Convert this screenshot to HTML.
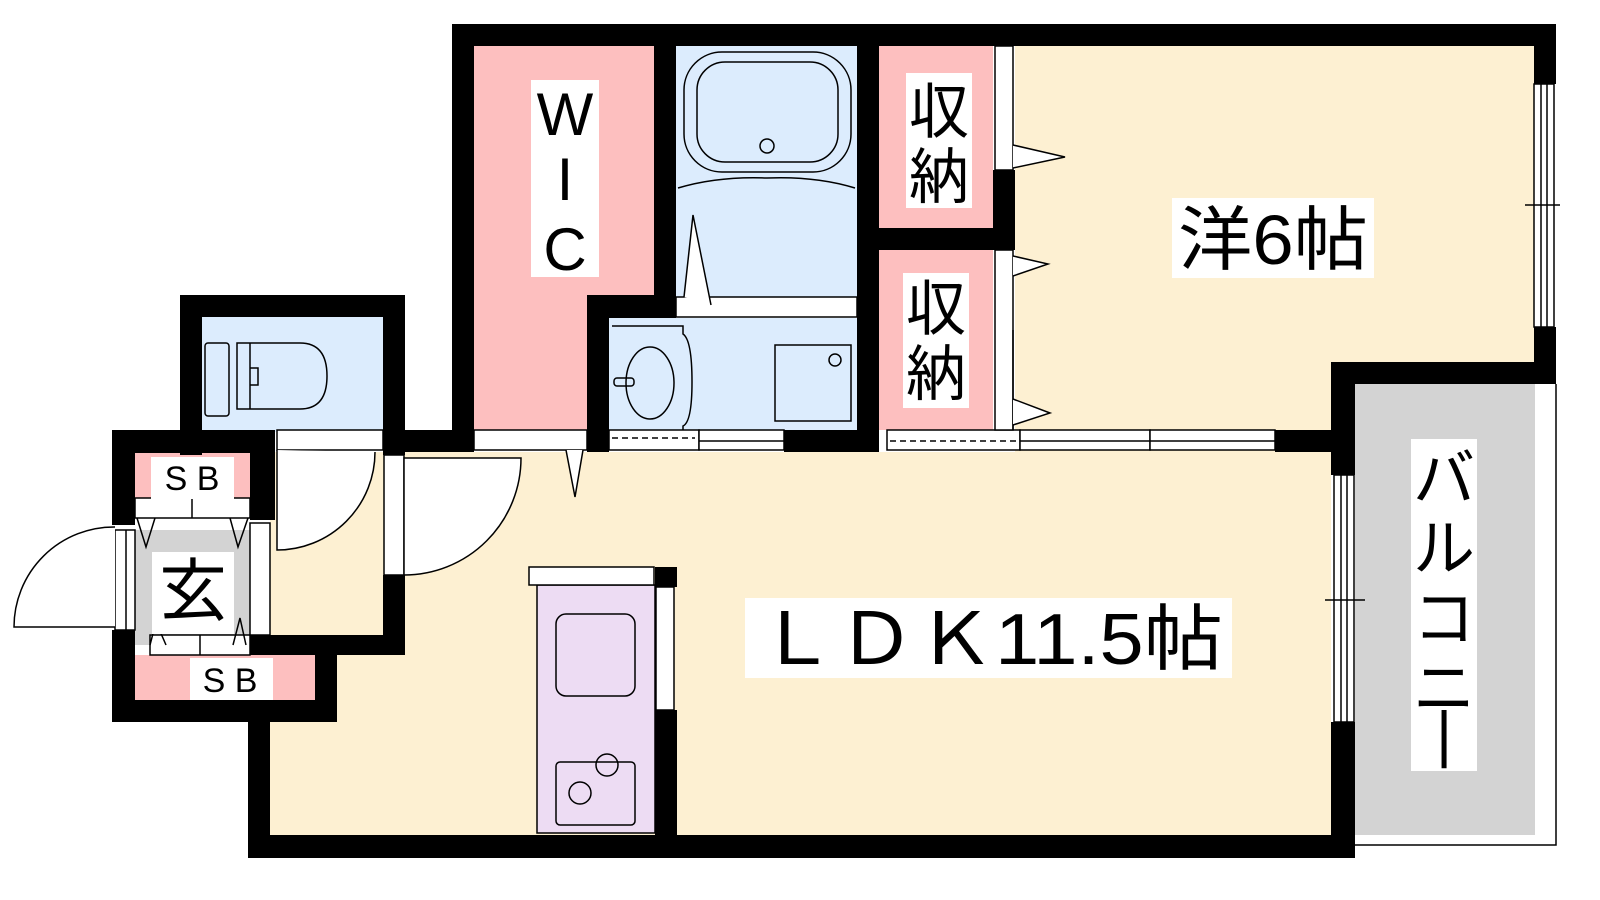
<!DOCTYPE html>
<html><head><meta charset="utf-8"><style>
html,body{margin:0;padding:0;background:#fff;width:1600px;height:900px;overflow:hidden}
svg{display:block}
text{font-family:"Liberation Sans","Noto Sans CJK JP",sans-serif;fill:#000}
</style></head><body>
<svg width="1600" height="900" viewBox="0 0 1600 900" xmlns="http://www.w3.org/2000/svg">
<rect x="270" y="452" width="1061" height="383" fill="#fdf0d2"/>
<rect x="1015" y="46" width="519" height="406" fill="#fdf0d2"/>
<rect x="270" y="452" width="113" height="183" fill="#fdf0d2"/>
<rect x="474" y="46" width="180" height="384" fill="#fdbfbf"/>
<rect x="676" y="46" width="181" height="251" fill="#dcecfd"/>
<rect x="609" y="318" width="248" height="112" fill="#dcecfd"/>
<rect x="879" y="46" width="114" height="182" fill="#fdbfbf"/>
<rect x="879" y="250" width="114" height="180" fill="#fdbfbf"/>
<rect x="202" y="317" width="181" height="115" fill="#dcecfd"/>
<rect x="1355" y="384" width="180" height="451" fill="#d3d3d3"/>
<path d="M1355 845 L1556 845 L1556 384" fill="none" stroke="#000" stroke-width="1.5"/>
<rect x="135" y="530" width="115" height="115" fill="#d3d3d3"/>
<rect x="135" y="453" width="115" height="45" fill="#fdbfbf"/>
<rect x="135" y="655" width="180" height="45" fill="#fdbfbf"/>
<rect x="537" y="585" width="118" height="248" fill="#eddcf3" stroke="#000" stroke-width="1.5"/>

<g fill="#000">
<rect x="452" y="24" width="1104" height="22"/>
<rect x="1534" y="24" width="22" height="60"/>
<rect x="1534" y="327" width="22" height="57"/>
<rect x="1331" y="362" width="225" height="22"/>
<rect x="1331" y="362" width="24" height="113"/>
<rect x="1331" y="722" width="24" height="136"/>
<rect x="248" y="835" width="1107" height="23"/>
<rect x="248" y="700" width="22" height="158"/>
<rect x="452" y="24" width="22" height="428"/>
<rect x="654" y="24" width="22" height="273"/>
<rect x="587" y="295" width="89" height="23"/>
<rect x="587" y="295" width="22" height="157"/>
<rect x="857" y="24" width="22" height="428"/>
<rect x="879" y="228" width="136" height="22"/>
<rect x="993" y="170" width="22" height="80"/>
<rect x="784" y="430" width="95" height="22"/>
<rect x="1275" y="430" width="80" height="22"/>
<rect x="180" y="295" width="225" height="22"/>
<rect x="180" y="295" width="22" height="160"/>
<rect x="383" y="295" width="22" height="160"/>
<rect x="383" y="430" width="91" height="22"/>
<rect x="112" y="430" width="163" height="23"/>
<rect x="250" y="430" width="25" height="90"/>
<rect x="112" y="430" width="23" height="95"/>
<rect x="112" y="630" width="23" height="92"/>
<rect x="112" y="700" width="225" height="22"/>
<rect x="315" y="635" width="22" height="87"/>
<rect x="248" y="635" width="157" height="20"/>
<rect x="383" y="575" width="22" height="80"/>
<rect x="655" y="567" width="22" height="20"/>
<rect x="655" y="710" width="22" height="125"/>
</g>

<g fill="#fff" stroke="#000" stroke-width="1.5">
<rect x="1534" y="84" width="20" height="243"/>
<rect x="1334" y="475" width="20" height="247"/>
<rect x="474" y="430" width="113" height="20"/>
<rect x="277" y="430" width="106" height="20"/>
<rect x="384" y="455" width="20" height="120"/>
<rect x="609" y="430" width="90" height="20"/>
<rect x="699" y="430" width="85" height="20"/>
<rect x="887" y="430" width="133" height="20"/>
<rect x="1020" y="430" width="130" height="20"/>
<rect x="1150" y="430" width="125" height="20"/>
<rect x="676" y="297" width="181" height="20"/>
<rect x="995" y="46" width="18" height="124"/>
<rect x="995" y="250" width="18" height="180"/>
<rect x="529" y="567" width="125" height="18"/>
<rect x="656" y="587" width="18" height="123"/>
<rect x="135" y="498" width="115" height="20"/>
<rect x="150" y="635" width="100" height="20"/>
<rect x="250" y="523" width="20" height="112"/>
<rect x="115" y="530" width="20" height="100"/>
</g>
<g stroke="#000" stroke-width="1.5" fill="none">
<line x1="1541" y1="84" x2="1541" y2="327"/><line x1="1547" y1="84" x2="1547" y2="327"/>
<line x1="1525" y1="205" x2="1560" y2="205"/>
<line x1="1341" y1="475" x2="1341" y2="722"/><line x1="1347" y1="475" x2="1347" y2="722"/>
<line x1="1325" y1="600" x2="1365" y2="600"/>
<line x1="1020" y1="441" x2="1275" y2="441"/>
<line x1="699" y1="441" x2="784" y2="441"/>
<line x1="192" y1="498" x2="192" y2="518"/>
<line x1="200" y1="635" x2="200" y2="655"/>
<line x1="126" y1="530" x2="126" y2="630"/>
<line x1="1013" y1="330" x2="1013" y2="430"/>
<line x1="612" y1="438" x2="695" y2="438" stroke-dasharray="6,4"/>
<line x1="890" y1="441" x2="1017" y2="441" stroke-dasharray="6,4"/>
<path d="M277 450 L277 550 A98 98 0 0 0 375 452" fill="#fff"/>
<path d="M404 458 L404 575 A117 117 0 0 0 521 458 Z" fill="#fff"/>
<path d="M115 527 A100 100 0 0 0 14 627 L115 627" fill="#fff"/>
<path d="M566 450 L575 497 L583 450" fill="#fff"/>
<path d="M684 297 L693 215 L711 305" fill="#fff"/>
<path d="M1013 145 L1065 157 L1013 168" fill="#fff"/>
<path d="M1013 256 L1048 264 L1013 276" fill="#fff"/>
<path d="M1013 399 L1050 413 L1013 425" fill="#fff"/>
<path d="M137 518 L146 547 L155 518"/>
<path d="M230 518 L238 547 L248 518"/>
<path d="M150 645 L156 622 L166 645"/>
<path d="M233 645 L240 618 L246 645"/>
<rect x="684" y="52" width="167" height="120" rx="38"/>
<rect x="697" y="62" width="141" height="100" rx="28"/>
<circle cx="767" cy="146" r="7"/>
<path d="M678 188 Q718 176 767 178 Q816 176 855 188"/>
<path d="M612 326 L683 326 L683 334 Q692 340 692 382 Q692 422 683 426 L683 430"/>
<ellipse cx="650" cy="383" rx="24" ry="36"/>
<rect x="614" y="378" width="20" height="8" rx="3"/>
<rect x="775" y="345" width="76" height="76"/>
<circle cx="835" cy="360" r="6"/>
<rect x="205" y="343" width="24" height="73" rx="3"/>
<path d="M237 343 L300 343 Q327 343 327 376 Q327 409 300 409 L237 409 Z"/>
<line x1="250" y1="343" x2="250" y2="409"/>
<path d="M250 368 L258 368 L258 385 L250 385"/>
<rect x="556" y="614" width="79" height="82" rx="10"/>
<rect x="556" y="762" width="79" height="63" rx="4"/>
<circle cx="607" cy="765" r="11"/><circle cx="580" cy="793" r="11"/>
</g>
<rect x="531" y="80" width="68" height="197" fill="#fff"/>
<text x="565" y="135" font-size="60" text-anchor="middle">W</text>
<text x="565" y="200" font-size="60" text-anchor="middle">I</text>
<text x="565" y="270" font-size="60" text-anchor="middle">C</text>
<rect x="906" y="73" width="66" height="135" fill="#fff"/>
<text x="939" y="133" font-size="60" text-anchor="middle">収</text>
<text x="939" y="198" font-size="60" text-anchor="middle">納</text>
<rect x="903" y="273" width="66" height="135" fill="#fff"/>
<text x="936" y="330" font-size="60" text-anchor="middle">収</text>
<text x="936" y="395" font-size="60" text-anchor="middle">納</text>
<rect x="1172" y="198" width="202" height="80" fill="#fff"/>
<text x="1273" y="264" font-size="70" text-anchor="middle" textLength="190" lengthAdjust="spacingAndGlyphs">洋6帖</text>
<rect x="745" y="598" width="487" height="80" fill="#fff"/>
<text x="990" y="664" font-size="72" text-anchor="middle" textLength="466" lengthAdjust="spacingAndGlyphs">ＬＤＫ11.5帖</text>
<rect x="1411" y="439" width="66" height="332" fill="#fff"/>
<text x="1444" y="500" font-size="62" text-anchor="middle">バ</text>
<text x="1444" y="570" font-size="62" text-anchor="middle">ル</text>
<text x="1444" y="640" font-size="62" text-anchor="middle">コ</text>
<text x="1444" y="710" font-size="62" text-anchor="middle">ニ</text>
<text x="1444" y="755" font-size="62" text-anchor="middle">|</text>
<rect x="151" y="457" width="83" height="42" fill="#fff"/>
<text x="192" y="490" font-size="34" text-anchor="middle">S B</text>
<rect x="190" y="658" width="83" height="42" fill="#fff"/>
<text x="230" y="692" font-size="34" text-anchor="middle">S B</text>
<rect x="152" y="552" width="82" height="82" fill="#fff"/>
<text x="193" y="615" font-size="68" text-anchor="middle">玄</text>
</svg>
</body></html>
